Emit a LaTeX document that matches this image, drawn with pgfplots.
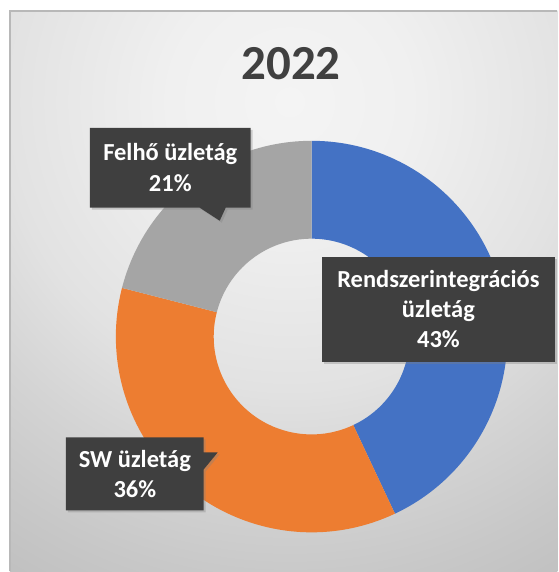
\documentclass[border=0pt]{standalone}
\usepackage{pgfplots}
\pgfplotsset{compat=1.18}
\usepackage{pgfplotstable}
\usepackage{fontspec}
\setmainfont{Carlito}
\usetikzlibrary{shadows}
\definecolor{cBlue}{HTML}{4472C4}
\definecolor{cOrange}{HTML}{ED7D31}
\definecolor{cGrey}{HTML}{A5A5A5}
\definecolor{boxc}{HTML}{3F3F3F}
\definecolor{titlec}{HTML}{404040}
\definecolor{bgA}{HTML}{F4F4F4}
\definecolor{bgA2}{HTML}{F0F0F0}
\definecolor{bgB}{HTML}{E2E2E2}
\definecolor{bgB2}{HTML}{D4D4D4}
\definecolor{bgC}{HTML}{C8C8C8}
\definecolor{bgC2}{HTML}{C0C0C0}
\definecolor{bgD}{HTML}{BEBEBE}
\pgfdeclareradialshading{bgshade}{\pgfpoint{0bp}{0bp}}{color(0bp)=(bgA); color(5bp)=(bgA2); color(12bp)=(bgB); color(16bp)=(bgB2); color(20bp)=(bgC); color(23bp)=(bgC2); color(25bp)=(bgD); color(50bp)=(bgD)}
\pgfplotstableread{
label value
Rendszer 43
SW 36
Felho 21
}\donut
\begin{document}
\begin{tikzpicture}
\begin{axis}[x=1pt,y=1pt,xmin=0,xmax=558,ymin=0,ymax=572,hide axis,clip=false,scale only axis]
% frame and background
\fill[white] (0,0) rectangle (558,572);
\begin{scope}
\clip (10,0) rectangle (558,561);
\shade[shading=bgshade] (290,470) circle [radius=600pt];
\end{scope}
\draw[white!72!black,line width=1.5pt] (10,0) -- (10,561) -- (558,561);
% donut segments from data
\pgfplotstablegetelem{0}{value}\of\donut \edef\va{\pgfplotsretval}
\pgfplotstablegetelem{1}{value}\of\donut \edef\vb{\pgfplotsretval}
\pgfplotstablegetelem{2}{value}\of\donut \edef\vc{\pgfplotsretval}
\pgfmathsetmacro\aA{90}
\pgfmathsetmacro\aB{90-3.6*\va}
\pgfmathsetmacro\aC{\aB-3.6*\vb}
\pgfmathsetmacro\aD{\aC-3.6*\vc}
\fill[cBlue] (312,235) ++(\aA:196pt) arc[start angle=\aA,end angle=\aB,radius=196pt] -- ([shift={(\aB:98pt)}]axis cs:312,235) arc[start angle=\aB,end angle=\aA,radius=98pt] -- cycle;
\fill[cOrange] (312,235) ++(\aB:196pt) arc[start angle=\aB,end angle=\aC,radius=196pt] -- ([shift={(\aC:98pt)}]axis cs:312,235) arc[start angle=\aC,end angle=\aB,radius=98pt] -- cycle;
\fill[cGrey] (312,235) ++(\aC:196pt) arc[start angle=\aC,end angle=\aD,radius=196pt] -- ([shift={(\aD:98pt)}]axis cs:312,235) arc[start angle=\aD,end angle=\aC,radius=98pt] -- cycle;
% title
\node[anchor=base,text=titlec,font=\fontsize{49}{58}\selectfont\bfseries] at (291.5,492) {2022};
% label boxes
\fill[boxc,drop shadow={shadow xshift=2pt,shadow yshift=-2pt,opacity=0.35}] (90,364) -- (200,364) -- (220,351) -- (226,364) -- (251,364) -- (251,444) -- (90,444) -- cycle;
\fill[boxc,drop shadow={shadow xshift=2pt,shadow yshift=-2pt,opacity=0.35}] (322,210) rectangle (556,315);
\fill[boxc,drop shadow={shadow xshift=2pt,shadow yshift=-2pt,opacity=0.35}] (66,61) -- (204,61) -- (204,102) -- (218,119) -- (204,119) -- (204,134) -- (66,134) -- cycle;
\node[text=white,align=center,font=\fontsize{24.5}{31}\selectfont\bfseries] at (170.5,404) {Felhő üzletág\\21\%};
\node[text=white,align=center,font=\fontsize{24.5}{30}\selectfont\bfseries] at (439,262.5) {Rendszerintegrációs\\üzletág\\43\%};
\node[text=white,align=center,font=\fontsize{24.5}{30}\selectfont\bfseries] at (135,97.5) {SW üzletág\\36\%};
\end{axis}
\end{tikzpicture}
\end{document}
